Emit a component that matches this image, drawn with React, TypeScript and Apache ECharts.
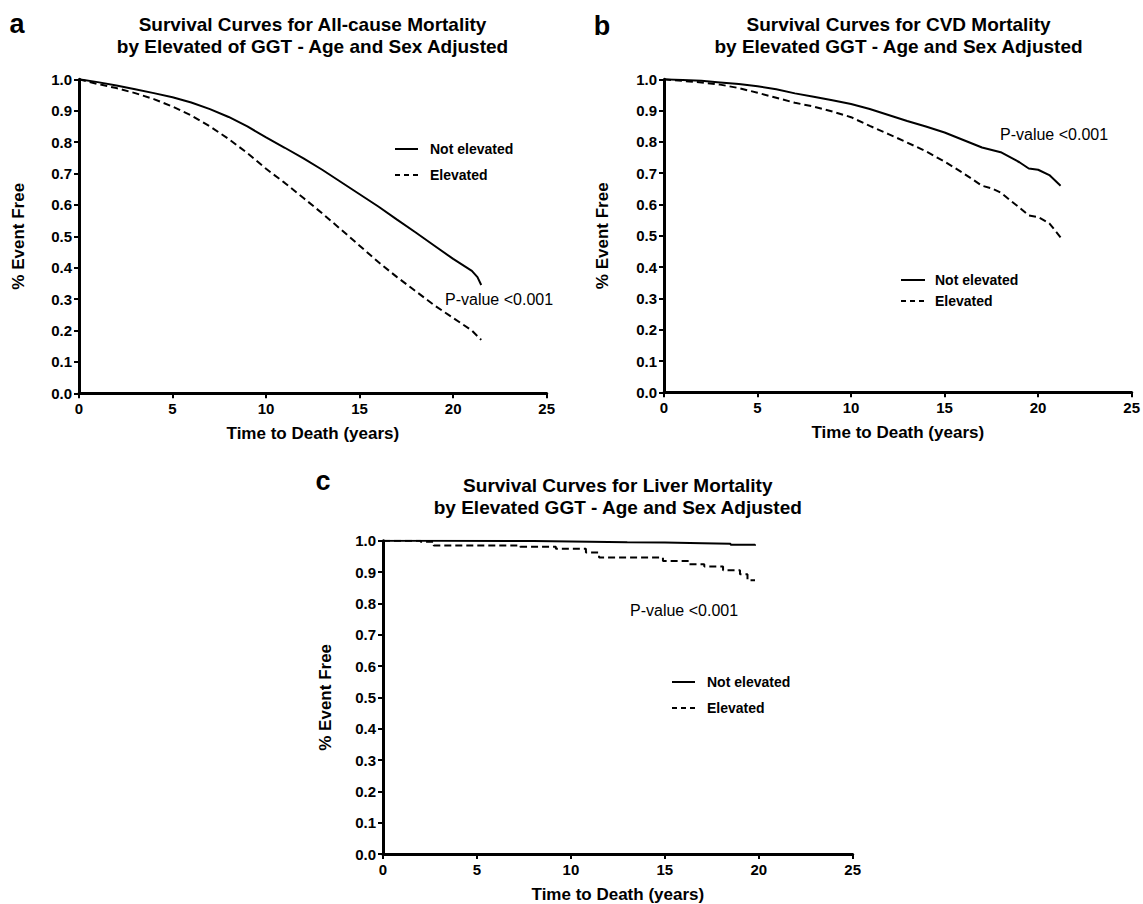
import React, { useEffect, useRef } from "react";
import * as echarts from "echarts";

// Panel a – All-cause mortality
const aNotT = [0, 1, 2, 3, 4, 5, 6, 7, 8, 9, 10, 11, 12, 13, 14, 15, 16, 17, 18, 19, 20, 21, 21.3, 21.5];
const aNotV = [1.0, 0.991, 0.98, 0.968, 0.956, 0.943, 0.926, 0.905, 0.88, 0.85, 0.815, 0.782, 0.748, 0.712, 0.673, 0.634, 0.595, 0.553, 0.512, 0.47, 0.428, 0.39, 0.37, 0.345];
const aElT = [0, 1, 2, 3, 4, 5, 6, 7, 8, 9, 10, 11, 12, 13, 14, 15, 16, 17, 18, 19, 20, 21, 21.5];
const aElV = [1.0, 0.985, 0.972, 0.956, 0.937, 0.913, 0.885, 0.85, 0.81, 0.765, 0.715, 0.67, 0.622, 0.573, 0.522, 0.47, 0.418, 0.37, 0.325, 0.28, 0.24, 0.2, 0.17];

// Panel b – CVD mortality
const bNotT = [0, 1, 2, 3, 4, 5, 6, 7, 8, 9, 10, 11, 12, 13, 14, 15, 16, 17, 18, 19, 19.5, 20, 20.6, 21.2];
const bNotV = [1.0, 0.998, 0.995, 0.99, 0.985, 0.978, 0.968, 0.955, 0.944, 0.933, 0.921, 0.905, 0.886, 0.867, 0.849, 0.83, 0.806, 0.782, 0.767, 0.735, 0.715, 0.711, 0.694, 0.66];
const bElT = [0, 1, 2, 3, 4, 5, 6, 7, 8, 9, 10, 11, 12, 13, 14, 15, 16, 17, 17.5, 18, 19, 19.5, 20, 20.6, 21.2];
const bElV = [1.0, 0.995, 0.99, 0.983, 0.972, 0.957, 0.941, 0.925, 0.913, 0.897, 0.879, 0.851, 0.825, 0.798, 0.77, 0.737, 0.7, 0.66, 0.652, 0.638, 0.59, 0.565, 0.56, 0.54, 0.495];

// Panel c – Liver mortality (step curves)
const cNotT = [0, 3, 8, 11, 13, 15, 17, 18.5, 19.8];
const cNotV = [1.0, 0.999, 0.997, 0.995, 0.994, 0.992, 0.99, 0.987, 0.984];
const cElT = [0, 2.0, 2.7, 7.3, 9.2, 10.8, 11.5, 14.9, 16.3, 17.1, 18.1, 19.0, 19.4, 19.8];
const cElV = [1.0, 0.997, 0.985, 0.981, 0.974, 0.962, 0.946, 0.935, 0.925, 0.918, 0.906, 0.893, 0.874, 0.872];

const xTicks = [0, 5, 10, 15, 20, 25];
const titlesA = ["Survival Curves for All-cause Mortality", "by Elevated of GGT - Age and Sex Adjusted"];
const titlesB = ["Survival Curves for CVD Mortality", "by Elevated GGT - Age and Sex Adjusted"];
const titlesC = ["Survival Curves for Liver Mortality", "by Elevated GGT - Age and Sex Adjusted"];
const legendNames = ["Not elevated", "Elevated"];
const pText = "P-value <0.001";
const xName = "Time to Death (years)";
const yName = "% Event Free";

const FONT = "'Liberation Sans', Arial, Helvetica, sans-serif";

const zip = (t: number[], v: number[]) => t.map((x, i) => [x, v[i]]);

export default function App() {
  const ref = useRef<HTMLDivElement>(null);
  useEffect(() => {
    if (!ref.current) return;
    const chart = echarts.init(ref.current, undefined, { renderer: "svg" });

    const grids = [
      { left: 79, top: 79.3, width: 467.7, height: 314 },
      { left: 664, top: 79.3, width: 469, height: 313 },
      { left: 383, top: 540.7, width: 469.7, height: 313.3 },
    ];
    const yGaps = [52, 53, 49];

    const xAxes = grids.map((_, i) => ({
      type: "value",
      gridIndex: i,
      min: xTicks[0],
      max: xTicks[xTicks.length - 1],
      interval: 5,
      name: xName,
      nameLocation: "middle",
      nameGap: 32,
      nameTextStyle: { fontFamily: FONT, fontWeight: "bold", fontSize: 17, color: "#000" },
      axisLine: { show: true, onZero: false, lineStyle: { color: "#000", width: 3 } },
      axisTick: { show: true, length: 5, lineStyle: { color: "#000", width: 2 } },
      axisLabel: { fontFamily: FONT, fontWeight: "bold", fontSize: 15, color: "#000", margin: 8 },
      splitLine: { show: false },
    }));
    const yAxes = grids.map((_, i) => ({
      type: "value",
      gridIndex: i,
      min: 0,
      max: 1,
      interval: 0.1,
      name: yName,
      nameLocation: "middle",
      nameGap: yGaps[i],
      nameRotate: 90,
      nameTextStyle: { fontFamily: FONT, fontWeight: "bold", fontSize: 17, color: "#000" },
      axisLine: { show: true, onZero: false, lineStyle: { color: "#000", width: 3 } },
      axisTick: { show: true, length: 5, lineStyle: { color: "#000", width: 2 } },
      axisLabel: {
        fontFamily: FONT, fontWeight: "bold", fontSize: 15, color: "#000", margin: 7,
        formatter: (v: number) => v.toFixed(1),
      },
      splitLine: { show: false },
    }));

    const mk = (idx: number, t: number[], v: number[], dashed: boolean, step?: any) => ({
      type: "line",
      xAxisIndex: idx,
      yAxisIndex: idx,
      data: zip(t, v),
      symbol: "none",
      step: step || false,
      lineStyle: { color: "#000", width: 2, type: dashed ? [7, 4] : "solid" },
      silent: true,
    });

    const text = (x: number, y: number, s: string, size: number, weight: string, align = "center") => ({
      type: "text",
      x,
      y,
      style: {
        text: s,
        fontFamily: FONT,
        fontSize: size,
        fontWeight: weight,
        fill: "#000",
        align,
        verticalAlign: "middle",
      },
    });
    const line = (x1: number, x2: number, y: number, dashed: boolean) => ({
      type: "line",
      shape: { x1, y1: y, x2, y2: y },
      style: { stroke: "#000", lineWidth: 2, lineDash: dashed ? [5, 4] : null },
    });

    const legend = (x1: number, x2: number, tx: number, y1: number, y2: number) => [
      line(x1, x2, y1, false),
      line(x1, x2, y2, true),
      text(tx, y1, legendNames[0], 14, "bold", "left"),
      text(tx, y2, legendNames[1], 14, "bold", "left"),
    ];

    const graphics = [
      text(17, 24, "a", 27, "bold"),
      text(602, 26, "b", 27, "bold"),
      text(323, 481, "c", 27, "bold"),
      text(312.5, 24, titlesA[0], 19, "bold"),
      text(312.5, 46, titlesA[1], 19, "bold"),
      text(898.5, 24, titlesB[0], 19, "bold"),
      text(898.5, 46, titlesB[1], 19, "bold"),
      text(617.8, 485, titlesC[0], 19, "bold"),
      text(617.8, 507, titlesC[1], 19, "bold"),
      ...legend(395, 418, 430, 149, 175),
      ...legend(901, 925, 935, 280, 301),
      ...legend(672, 695, 707, 682, 708),
      text(445, 299, pText, 16, "normal", "left"),
      text(1000, 134, pText, 16, "normal", "left"),
      text(630, 610, pText, 16, "normal", "left"),
    ];

    chart.setOption({
      animation: false,
      backgroundColor: "#fff",
      grid: grids,
      xAxis: xAxes,
      yAxis: yAxes,
      series: [
        mk(0, aNotT, aNotV, false),
        mk(0, aElT, aElV, true),
        mk(1, bNotT, bNotV, false),
        mk(1, bElT, bElV, true),
        mk(2, cNotT, cNotV, false, "end"),
        mk(2, cElT, cElV, true, "end"),
      ],
      graphic: { elements: graphics },
    });
    return () => chart.dispose();
  }, []);

  return (
    <div
      ref={ref}
      style={{ position: "fixed", left: 0, top: 0, width: 1143, height: 904, background: "#fff" }}
    />
  );
}
